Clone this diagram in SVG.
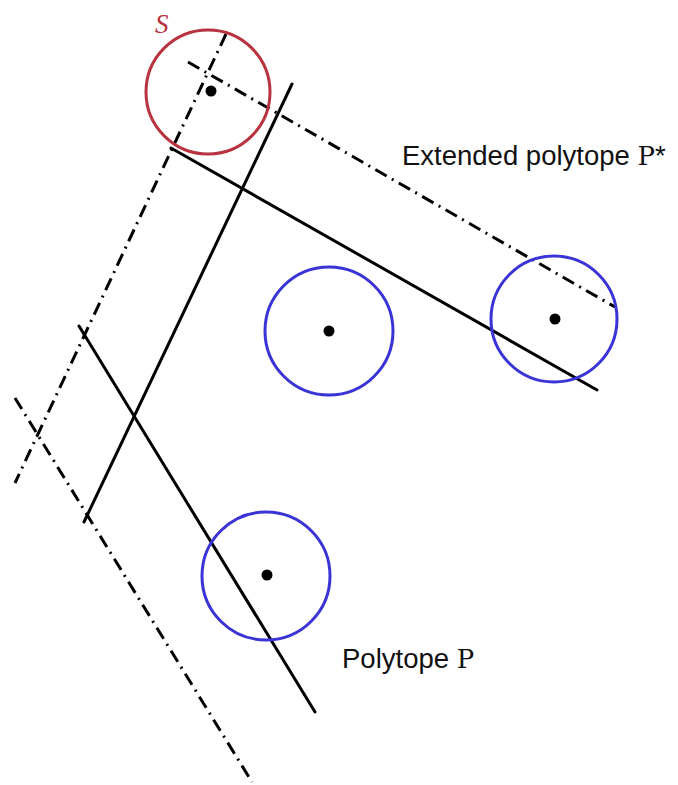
<svg xmlns="http://www.w3.org/2000/svg" width="678" height="785" viewBox="0 0 678 785">
<style>
.solid{stroke:#000;stroke-width:3;fill:none;stroke-linecap:round}
.dd{stroke:#000;stroke-width:3;fill:none;stroke-dasharray:13 6 2 6}
.blue{stroke:#3a33d6;stroke-width:3;fill:none}
.red{stroke:#b8323f;stroke-width:3;fill:none}
.dot{fill:#000}
.lbl{font-family:"Liberation Sans",Arial,sans-serif;font-size:27.5px;fill:#111}
.math{font-family:"DejaVu Serif","Liberation Serif",serif;font-size:26px}
</style>
<rect width="678" height="785" fill="#fff"/>
<g id="connectors">
<line class="solid" x1="292" y1="84" x2="84" y2="522"/>
<line class="solid" x1="171" y1="148" x2="597" y2="390"/>
<line class="solid" x1="79" y1="326" x2="315" y2="712"/>
<line class="dd" x1="226" y1="34" x2="15" y2="483"/>
<line class="dd" x1="188" y1="62" x2="615" y2="307"/>
<line class="dd" x1="15" y1="398" x2="252" y2="782"/>
</g>
<g id="S">
<circle class="red" cx="208" cy="92" r="62"/>
<circle class="dot" cx="211" cy="91" r="5.5"/>
<text x="155" y="33" font-family="Liberation Serif,serif" font-style="italic" font-size="27" fill="#b8323f">S</text>
</g>
<g id="c1">
<circle class="blue" cx="329" cy="331" r="64"/>
<circle class="dot" cx="329" cy="331" r="5.5"/>
</g>
<g id="c2">
<circle class="blue" cx="554" cy="319" r="63"/>
<circle class="dot" cx="555" cy="319" r="5.5"/>
</g>
<g id="c3">
<circle class="blue" cx="266" cy="576" r="64"/>
<circle class="dot" cx="267" cy="575" r="5.5"/>
</g>
<g id="label-extended">
<text class="lbl" x="402" y="165">Extended polytope <tspan class="math">P</tspan>*</text>
</g>
<g id="label-polytope">
<text class="lbl" x="342" y="668">Polytope <tspan class="math">P</tspan></text>
</g>
</svg>
